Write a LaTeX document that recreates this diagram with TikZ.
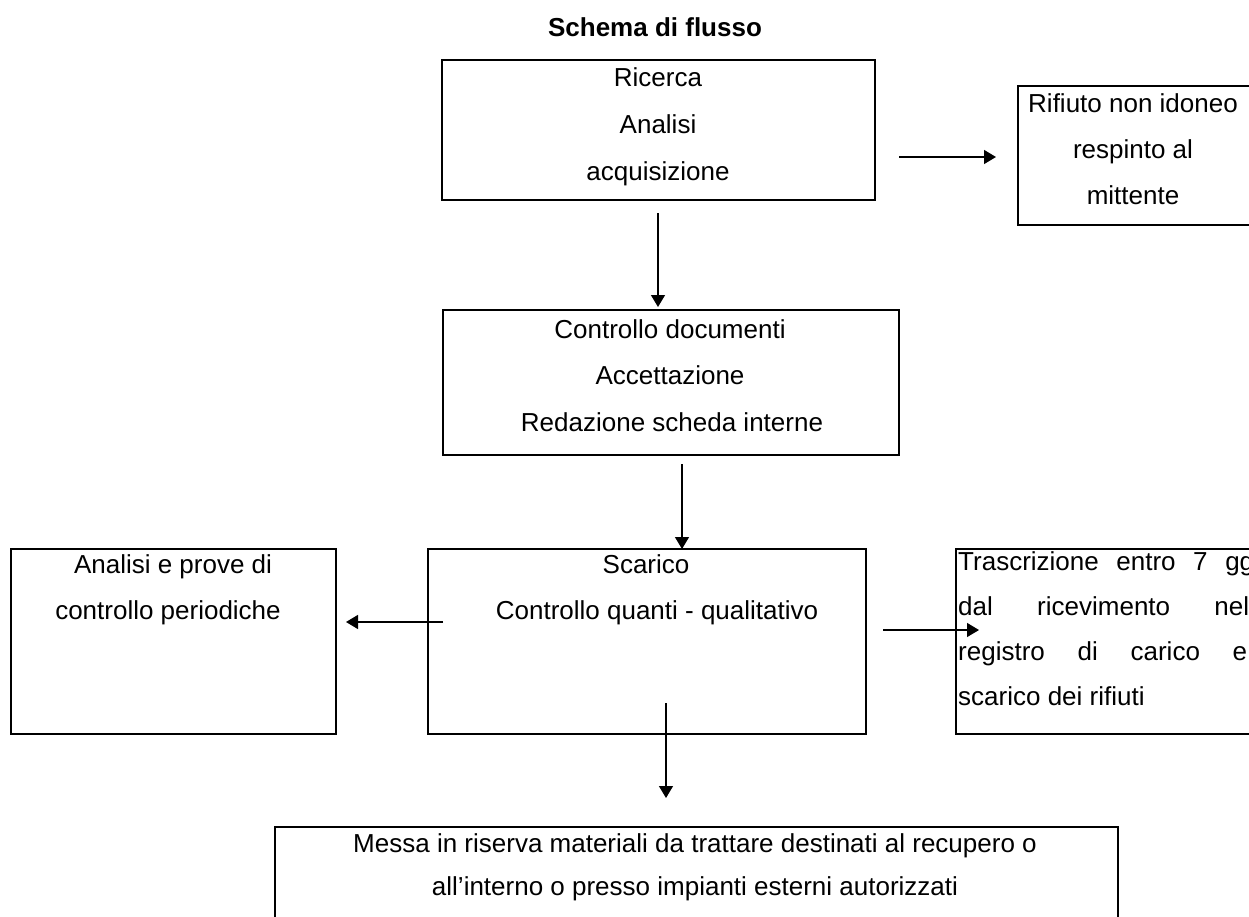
\documentclass[tikz,border=0pt]{standalone}
\usepackage{fontspec}
\setmainfont{Liberation Sans}
\usetikzlibrary{arrows.meta}
\begin{document}
\begin{tikzpicture}[x=1pt,y=-1pt,
  box/.style={draw, line width=1.9pt, inner sep=0pt, anchor=north west},
  txt/.style={anchor=base, inner sep=0pt, font=\fontsize{26}{30}\selectfont},
  arr/.style={line width=1.3pt, -{Triangle[length=12pt,width=14pt]}}]
\useasboundingbox (0,0) rectangle (1249,916);
\clip (0,0) rectangle (1249,916);
\fill[white] (0,0) rectangle (1249,916);
% title
\node[txt, font=\fontsize{26}{30}\selectfont\bfseries] (title) at (655,36) {Schema di flusso};
% box A
\node[box, minimum width=433pt, minimum height=140pt] (A) at (441,59) {};
\node[txt] (a1) at (658,86) {Ricerca};
\node[txt] (a2) at (658,133) {Analisi};
\node[txt] (a3) at (658,180) {acquisizione};
% box R
\node[box, minimum width=260pt, minimum height=139pt] (R) at (1017,85) {};
\node[txt] (r1) at (1133,112) {Rifiuto non idoneo};
\node[txt] (r2) at (1133,158) {respinto al};
\node[txt] (r3) at (1133,204) {mittente};
% box B
\node[box, minimum width=456pt, minimum height=145pt] (B) at (442,309) {};
\node[txt] (b1) at (670,338) {Controllo documenti};
\node[txt] (b2) at (670,384) {Accettazione};
\node[txt] (b3) at (672,431) {Redazione scheda interne};
% box L
\node[box, minimum width=325pt, minimum height=185pt] (L) at (10,548) {};
\node[txt] (l1) at (173,573) {Analisi e prove di};
\node[txt] (l2) at (168,619) {controllo periodiche};
% box C
\node[box, minimum width=438pt, minimum height=185pt] (C) at (427,548) {};
\node[txt] (c1) at (646,573) {Scarico};
\node[txt] (c2) at (657,619) {Controllo quanti - qualitativo};
% box T
\node[box, minimum width=320pt, minimum height=185pt] (T) at (955,548) {};
\node[txt, anchor=base west] (t1) at (958,570) {\makebox[296pt][s]{Trascrizione entro 7 gg}};
\node[txt, anchor=base west] (t2) at (958,615) {\makebox[291pt][s]{dal ricevimento nel}};
\node[txt, anchor=base west] (t3) at (958,660) {\makebox[289pt][s]{registro di carico e}};
\node[txt, anchor=base west] (t4) at (958,705) {scarico dei rifiuti};
% box D
\node[box, minimum width=843pt, minimum height=140pt] (D) at (274,826) {};
\node[txt] (d1) at (695,852) {Messa in riserva materiali da trattare destinati al recupero o};
\node[txt] (d2) at (695,895) {all’interno o presso impianti esterni autorizzati};
% arrows
\coordinate (pAR1) at (899,157); \coordinate (pAR2) at (996,157);
\coordinate (pAB1) at (658,213); \coordinate (pAB2) at (658,307);
\coordinate (pBC1) at (682,464); \coordinate (pBC2) at (682,549);
\coordinate (pCL1) at (443,622); \coordinate (pCL2) at (346,622);
\coordinate (pCT1) at (883,630); \coordinate (pCT2) at (979,630);
\coordinate (pCD1) at (666,703); \coordinate (pCD2) at (666,798);
\draw[arr] (pAR1) -- (pAR2);
\draw[arr] (pAB1) -- (pAB2);
\draw[arr] (pBC1) -- (pBC2);
\draw[arr] (pCL1) -- (pCL2);
\draw[arr] (pCT1) -- (pCT2);
\draw[arr] (pCD1) -- (pCD2);
\end{tikzpicture}
\end{document}
